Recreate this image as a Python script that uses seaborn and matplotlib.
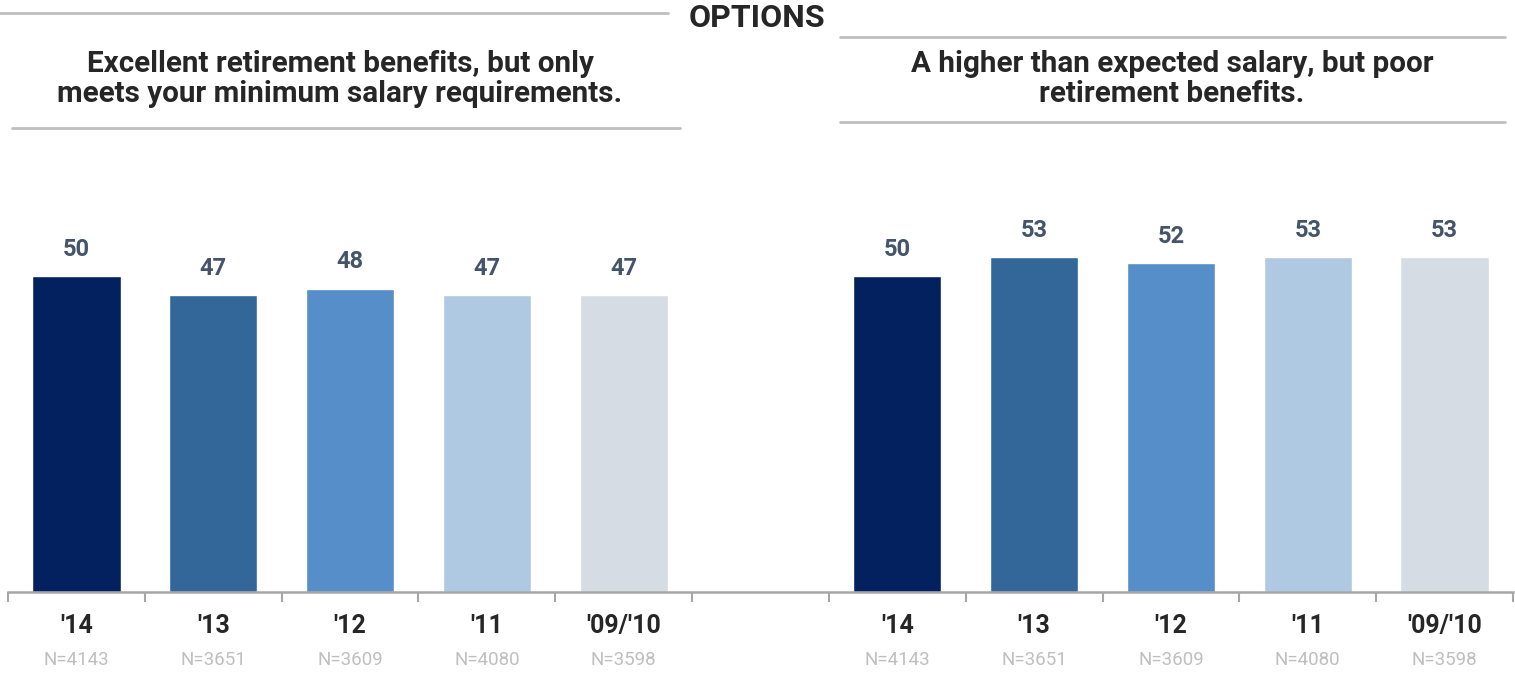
import numpy as np
import pandas as pd
import matplotlib
matplotlib.use("Agg")
import matplotlib.pyplot as plt
import seaborn as sns

years = ["'14", "'13", "'12", "'11", "'09/'10"]
sample_sizes = ["N=4143", "N=3651", "N=3609", "N=4080", "N=3598"]
retirement_values = [50, 47, 48, 47, 47]
salary_values = [50, 53, 52, 53, 53]
year_colors = ["#03215F", "#33679A", "#558EC8", "#AFC9E3", "#D6DCE4"]

left_title = "Excellent retirement benefits, but only\nmeets your minimum salary requirements."
right_title = "A higher than expected salary, but poor\nretirement benefits."

sns.set_theme(style="white")
plt.rcParams["font.family"] = ["Roboto", "DejaVu Sans"]

# one row per bar; slot keeps the two groups apart with an empty slot between
rows = []
for y, v in zip(years, retirement_values):
    rows.append({"slot": "A" + y, "year": y, "value": v})
for y, v in zip(years, salary_values):
    rows.append({"slot": "B" + y, "year": y, "value": v})
df = pd.DataFrame(rows)
order = ["A" + y for y in years] + ["gap"] + ["B" + y for y in years]

W, H = 1515, 673
fig = plt.figure(figsize=(W / 100, H / 100), dpi=100)
ax = fig.add_axes([8 / W, 81 / H, 1505 / W, 442.4 / H])

sns.barplot(data=df, x="slot", y="value", hue="year", order=order,
            hue_order=years, palette=dict(zip(years, year_colors)),
            saturation=1, dodge=False, width=0.645, legend=False, ax=ax)

for c in ax.containers:
    ax.bar_label(c, padding=11, fontsize=17, fontweight="bold", color="#44546A")

ax.set_xlim(-0.5, len(order) - 0.5)
ax.set_ylim(0, 70)
ax.set_xticks(np.arange(-0.5, len(order), 1))
ax.set_xticklabels([])
ax.set_yticks([])
ax.set_xlabel("")
ax.set_ylabel("")
for s in ["top", "right", "left"]:
    ax.spines[s].set_visible(False)
ax.spines["bottom"].set_color("#A6A6A6")
ax.spines["bottom"].set_linewidth(1.8)
ax.tick_params(axis="x", bottom=True, direction="out", length=7,
               width=1.5, color="#A6A6A6")

# category labels under each bar
trans = ax.get_xaxis_transform()
for i, slot in enumerate(order):
    if slot == "gap":
        continue
    k = years.index(slot[1:])
    ax.text(i, -34 / 442.4, years[k], transform=trans, ha="center", va="center",
            fontsize=18, fontweight="bold", color="#262626")
    ax.text(i, -68 / 442.4, sample_sizes[k], transform=trans, ha="center",
            va="center", fontsize=13.5, color="#BFBFBF")

# header texts and rules
fig.text(757 / W, 1 - 18 / H, "OPTIONS", ha="center", va="center",
         fontsize=23, fontweight="bold", color="#262626")
fig.text(340 / W, 1 - 79 / H, left_title, ha="center", va="center",
         fontsize=21.3, fontweight="bold", color="#262626", linespacing=1.12)
fig.text(1172 / W, 1 - 79 / H, right_title, ha="center", va="center",
         fontsize=21.3, fontweight="bold", color="#262626", linespacing=1.12)

rule = dict(color="#BFBFBF", lw=2, transform=fig.transFigure)
fig.add_artist(plt.Line2D([0, 668 / W], [1 - 13 / H] * 2, **rule))
fig.add_artist(plt.Line2D([840 / W, 1505 / W], [1 - 37 / H] * 2, **rule))
fig.add_artist(plt.Line2D([12 / W, 680 / W], [1 - 128 / H] * 2, **rule))
fig.add_artist(plt.Line2D([840 / W, 1505 / W], [1 - 122 / H] * 2, **rule))

fig.savefig("out.png", dpi=100)
